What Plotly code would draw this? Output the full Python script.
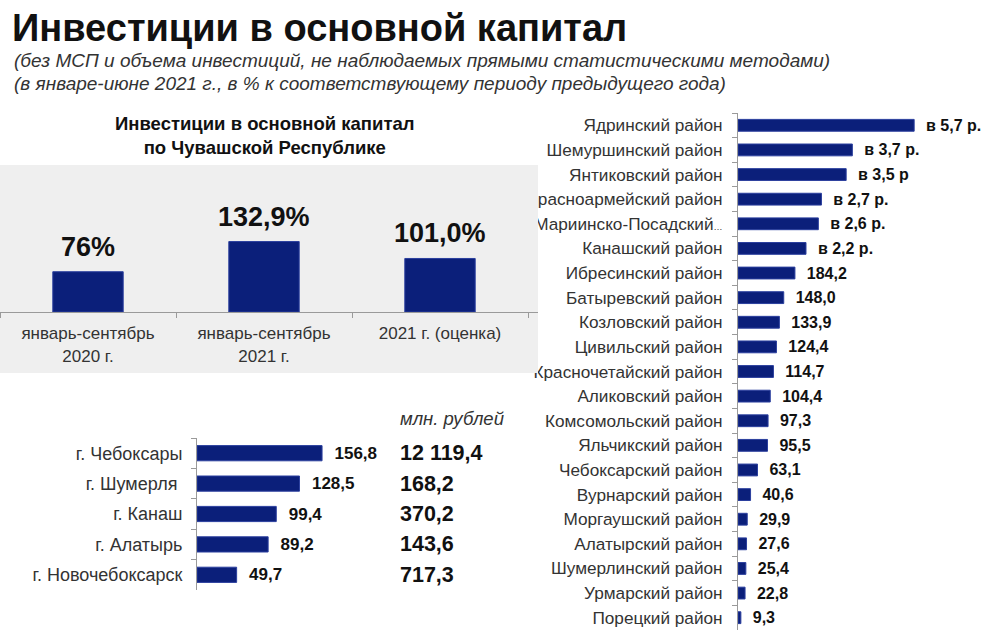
import plotly.graph_objects as go

W, H = 984, 630

# ---------------- data ----------------
period_labels = ["январь-сентябрь<br>2020 г.", "январь-сентябрь<br>2021 г.", "2021 г. (оценка)"]
period_values = [76.0, 132.9, 101.0]
period_text = ["76%", "132,9%", "101,0%"]

city_names = ["г. Чебоксары", "г. Шумерля ", "г. Канаш", "г. Алатырь", "г. Новочебоксарск"]
city_values = [156.8, 128.5, 99.4, 89.2, 49.7]
city_text = ["156,8", "128,5", "99,4", "89,2", "49,7"]
city_mln_rub = ["12 119,4", "168,2", "370,2", "143,6", "717,3"]

district_names = [
    "Ядринский район", "Шемуршинский район", "Янтиковский район", "Красноармейский район",
    "Мариинско-Посадский<span style='font-size:9px'>…</span>", "Канашский район",
    "Ибресинский район", "Батыревский район",
    "Козловский район", "Цивильский район", "Красночетайский район", "Аликовский район",
    "Комсомольский район", "Яльчикский район", "Чебоксарский район", "Вурнарский район",
    "Моргаушский район", "Алатырский район", "Шумерлинский район", "Урмарский район",
    "Порецкий район",
]
district_values = [570, 370, 350, 270, 260, 220, 184.2, 148.0, 133.9, 124.4, 114.7, 104.4,
                   97.3, 95.5, 63.1, 40.6, 29.9, 27.6, 25.4, 22.8, 9.3]
district_text = ["в 5,7 р.", "в 3,7 р.", "в 3,5 р", "в 2,7 р.", "в 2,6 р.", "в 2,2 р.",
                 "184,2", "148,0", "133,9", "124,4", "114,7", "104,4", "97,3", "95,5",
                 "63,1", "40,6", "29,9", "27,6", "25,4", "22,8", "9,3"]

# ---------------- style ----------------
NAVY = "#0b1f7a"
EDGE = "#2b3f9e"
AXIS = "#9a9a9a"
TXT = "#333333"
FONT = "Liberation Sans, Arial, sans-serif"


def px(x0, x1):
    return [x0 / W, x1 / W]


def py(top, bottom):
    return [1 - bottom / H, 1 - top / H]


def pyc(y):
    return 1 - y / H


# top-left panel geometry (pixels)
TL_LEFT, TL_RIGHT, TL_TOP, TL_BOTTOM, TL_BASE = 0, 538, 165, 373, 312
TL_CAT_W = 176.0          # pixels per category
TL_PX_PER_UNIT = 0.53     # pixels per percent
tl_xrange = [-0.5, -0.5 + (TL_RIGHT - TL_LEFT) / TL_CAT_W]
tl_yrange = [-(TL_BOTTOM - TL_BASE) / TL_PX_PER_UNIT, (TL_BASE - TL_TOP) / TL_PX_PER_UNIT]

fig = go.Figure()

# right chart: districts (xaxis / yaxis)
fig.add_trace(go.Bar(
    x=district_values, y=district_names, orientation="h",
    marker=dict(color=NAVY, line=dict(color=EDGE, width=1)),
    text=["  " + t for t in district_text], textposition="outside", cliponaxis=False,
    constraintext="none",
    textfont=dict(family=FONT, size=16, color="#111111", weight="bold"),
    xaxis="x", yaxis="y", width=0.48, hoverinfo="skip",
))

# top-left chart: periods (xaxis2 / yaxis2)
fig.add_trace(go.Bar(
    x=period_labels, y=period_values,
    marker=dict(color=NAVY, line=dict(color=EDGE, width=1)),
    xaxis="x2", yaxis="y2", width=0.4, hoverinfo="skip",
))

# bottom-left chart: cities (xaxis3 / yaxis3)
fig.add_trace(go.Bar(
    x=city_values, y=city_names, orientation="h",
    marker=dict(color=NAVY, line=dict(color=EDGE, width=1)),
    text=["  " + t for t in city_text], textposition="outside", cliponaxis=False,
    constraintext="none",
    textfont=dict(family=FONT, size=17, color="#111111", weight="bold"),
    xaxis="x3", yaxis="y3", width=0.5, hoverinfo="skip",
))

annotations = []
for lab, v, t in zip(period_labels, period_values, period_text):
    annotations.append(dict(x=lab, y=v, xref="x2", yref="y2", text="<b>%s</b>" % t,
                            showarrow=False, yanchor="bottom", yshift=8,
                            font=dict(family=FONT, size=27, color="#111111")))
for name, m in zip(city_names, city_mln_rub):
    annotations.append(dict(x=398 / W, y=name, xref="paper", yref="y3", text="<b>%s</b>" % m,
                            showarrow=False, xanchor="left", yanchor="middle",
                            font=dict(family=FONT, size=21.5, color="#111111")))
annotations += [
    dict(x=398 / W, y=pyc(418), xref="paper", yref="paper", text="<i>млн. рублей</i>",
         showarrow=False, xanchor="left", yanchor="middle",
         font=dict(family=FONT, size=18.5, color=TXT)),
    dict(x=10 / W, y=pyc(28), xref="paper", yref="paper",
         text="<b>Инвестиции в основной капитал</b>", showarrow=False,
         xanchor="left", yanchor="middle",
         font=dict(family=FONT, size=38, color="#111111")),
    dict(x=12 / W, y=pyc(61), xref="paper", yref="paper",
         text="<i>(без МСП и объема инвестиций, не наблюдаемых прямыми статистическими методами)</i>",
         showarrow=False, xanchor="left", yanchor="middle",
         font=dict(family=FONT, size=19, color=TXT)),
    dict(x=12 / W, y=pyc(84), xref="paper", yref="paper",
         text="<i>(в январе-июне 2021 г., в % к соответствующему периоду предыдущего года)</i>",
         showarrow=False, xanchor="left", yanchor="middle",
         font=dict(family=FONT, size=19, color=TXT)),
    dict(x=265 / W, y=pyc(135), xref="paper", yref="paper",
         text="<b>Инвестиции в основной капитал<br>по Чувашской Республике</b>",
         showarrow=False, xanchor="center", yanchor="middle", align="center",
         font=dict(family=FONT, size=18.5, color="#111111")),
]

cat_axis = dict(type="category", showgrid=False, zeroline=False, showline=True,
                linecolor=AXIS, linewidth=1, ticks="outside", tickson="boundaries",
                ticklen=5, tickcolor=AXIS, fixedrange=True)
val_axis = dict(showgrid=False, zeroline=False, showline=False, showticklabels=False,
                ticks="", fixedrange=True)

fig.update_layout(
    width=W, height=H, margin=dict(l=0, r=0, t=0, b=0),
    paper_bgcolor="white", plot_bgcolor="rgba(0,0,0,0)",
    showlegend=False, bargap=0.5,
    font=dict(family=FONT, color=TXT),
    xaxis=dict(val_axis, domain=px(738, 984), range=[0, 796], anchor="y"),
    yaxis=dict(cat_axis, domain=py(113, 630), anchor="x", autorange="reversed",
               tickfont=dict(family=FONT, size=17.2, color=TXT), ticklabelstandoff=11),
    xaxis2=dict(cat_axis, domain=px(TL_LEFT, TL_RIGHT), range=tl_xrange,
                anchor="free", position=pyc(TL_BASE),
                tickfont=dict(family=FONT, size=17, color=TXT), ticklabelstandoff=6),
    yaxis2=dict(val_axis, domain=py(TL_TOP, TL_BOTTOM), range=tl_yrange, anchor="x2"),
    xaxis3=dict(val_axis, domain=px(197, 390), range=[0, 242], anchor="y3"),
    yaxis3=dict(cat_axis, domain=py(438, 590), anchor="x3", autorange="reversed",
                tickfont=dict(family=FONT, size=18, color=TXT), ticklabelstandoff=10),
    annotations=annotations,
    # grey panel behind the top-left chart, drawn in that subplot's own layer
    shapes=[dict(type="rect", xref="x2", yref="y2", x0=tl_xrange[0], x1=tl_xrange[1],
                 y0=tl_yrange[0], y1=tl_yrange[1], fillcolor="#efefef",
                 line=dict(width=0), layer="below")],
)

fig.write_html("out.html", post_script="document.body.style.margin='0px';",
               config={"displayModeBar": False})
